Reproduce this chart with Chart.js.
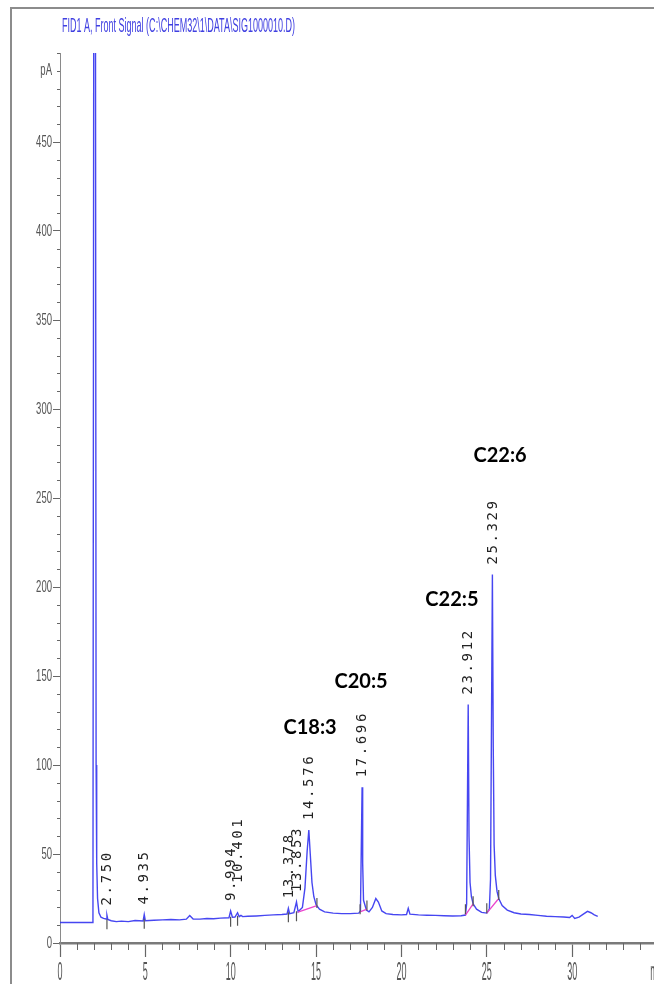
<!DOCTYPE html>
<html>
<head>
<meta charset="utf-8">
<script src="https://cdn.jsdelivr.net/npm/chart.js@4.4.1/dist/chart.umd.min.js"></script>
<style>
  html, body { margin: 0; padding: 0; background: #fff; width: 654px; height: 984px; overflow: hidden; }
  canvas { display: block; }
</style>
</head>
<body>
<canvas id="chrom" width="720" height="984" style="width:720px;height:984px"></canvas>
<script>
// FID detector trace: [retention time (min), signal (pA)], apexes excluded
const baseTrace = [
  [0, 11.5], [1.9, 11.5], [1.93, 11.8], [1.985, 620], [2.07, 620], [2.115, 100],
  [2.15, 45], [2.20, 25], [2.28, 17], [2.40, 14.5], [2.55, 13.8], [2.70, 13.5], [2.80, 13.2],
  [3.0, 12.5], [3.3, 12.0], [3.6, 12.3], [4.0, 12.0], [4.4, 12.6], [4.87, 12.4], [5.0, 12.5],
  [5.5, 12.8], [6.0, 13.0], [6.5, 13.2], [7.0, 13.0], [7.4, 13.4], [7.6, 15.5], [7.8, 13.5],
  [8.2, 13.4], [8.6, 13.8], [9.0, 13.6], [9.4, 14.0], [9.9, 14.2], [10.1, 14.5], [10.25, 14.6],
  [10.5, 14.8], [10.6, 15.5], [10.7, 14.8], [11.0, 15.0], [11.5, 15.2], [12.0, 15.5], [12.5, 15.8],
  [13.0, 16.0], [13.3, 16.3], [13.45, 16.5], [13.7, 17.0], [13.95, 17.5], [14.2, 20], [14.35, 31],
  [14.48, 52], [14.66, 50], [14.76, 34], [14.87, 26], [15.0, 21.5], [15.2, 19], [15.5, 17.5],
  [16.0, 16.8], [16.5, 16.5], [17.0, 16.5], [17.5, 16.8], [17.6, 18], [17.73, 45],
  [17.78, 24], [17.95, 18.5], [18.1, 17.5], [18.3, 20], [18.5, 25], [18.65, 23], [18.85, 18],
  [19.1, 16.5], [19.5, 16], [20.0, 15.8], [20.3, 16], [20.4, 19.5], [20.5, 16.2], [21.0, 15.8],
  [21.5, 15.6], [22.0, 15.5], [22.5, 15.3], [23.0, 15.2], [23.5, 15.3], [23.75, 15.7], [23.82, 22],
  [23.96, 60], [24.02, 34], [24.1, 26], [24.2, 22], [24.4, 19], [24.7, 17.2],
  [25.0, 16.8], [25.15, 19], [25.22, 36], [25.38, 110], [25.43, 55], [25.5, 38],
  [25.6, 29], [25.7, 25], [25.9, 21], [26.2, 18.5], [26.6, 17], [27.0, 16.3], [27.5, 16],
  [28.0, 15.5], [28.5, 15], [29.0, 14.8], [29.5, 14.6], [29.85, 14.3], [30.0, 15.5], [30.15, 13.8],
  [30.4, 14.5], [30.7, 16.5], [30.9, 17.8], [31.1, 17.0], [31.3, 15.8], [31.5, 15]
];

// Integrated peaks: retention time and apex height (pA)
const peakTimes = [2.750, 4.935, 9.994, 10.401, 13.378, 13.853, 14.576, 17.696, 23.912, 25.329];
const peakHeights = [15.5, 16, 18, 17, 19.5, 23, 63.5, 87.5, 134, 207];

// Integration baselines: [start t, start pA, end t, end pA]
const integBaselines = [
  [13.94, 17.3, 15.05, 21],
  [17.58, 17.5, 17.98, 19],
  [23.75, 15.7, 24.2, 22],
  [25.0, 16.8, 25.7, 25]
];

// Peak event marks: [t, pA]
const eventMarks = [
  [2.75, 10.5], [4.935, 10.8], [9.994, 12], [10.401, 12.5], [13.378, 14.5], [13.853, 15],
  [15.05, 22.5], [17.58, 19], [17.98, 21], [23.75, 19], [24.2, 23.5], [25.0, 19.5], [25.7, 27]
];

// Compound names and where they are written [t, pA]
const compoundNames = ['C18:3', 'C20:5', 'C22:5', 'C22:6'];
const compoundAt = [[14.65, 121], [17.64, 147], [22.96, 193], [25.78, 274]];

const xTickLabels = ['0', '5', '10', '15', '20', '25', '30', 'min'];
const yTickLabels = ['0', '50', '100', '150', '200', '250', '300', '350', '400', '450'];
const signalTitle = 'FID1 A, Front Signal (C:\\CHEM32\\1\\DATA\\SIG1000010.D)';

// merge apex points into the trace
const tracePts = baseTrace.map(p => ({ x: p[0], y: p[1] }))
  .concat(peakTimes.map((t, i) => ({ x: t, y: peakHeights[i] })))
  .sort((a, b) => a.x - b.x);

const basePts = [];
integBaselines.forEach(b => {
  basePts.push({ x: b[0], y: b[1] }, { x: b[2], y: b[3] }, { x: b[2] + 0.001, y: null });
});

const condensedText = (ctx, text, x, y, size, sx, align) => {
  ctx.save();
  ctx.font = size + 'px "Liberation Sans", Arial, sans-serif';
  const w = ctx.measureText(text).width * sx;
  let left = x;
  if (align === 'right') left = x - w;
  if (align === 'center') left = x - w / 2;
  ctx.translate(left, y);
  ctx.scale(sx, 1);
  ctx.textAlign = 'left';
  ctx.fillText(text, 0, 0);
  ctx.restore();
};

const decor = {
  id: 'decor',
  beforeDraw(chart) {
    const ctx = chart.ctx;
    ctx.save();
    ctx.fillStyle = '#fff';
    ctx.fillRect(0, 0, chart.width, chart.height);
    ctx.strokeStyle = '#8c8c8c';
    ctx.lineWidth = 2;
    ctx.beginPath();
    ctx.moveTo(11, chart.height);
    ctx.lineTo(11, 8);
    ctx.lineTo(chart.width, 8);
    ctx.stroke();
    ctx.restore();
  },
  afterDraw(chart) {
    const ctx = chart.ctx;
    const xs = chart.scales.x, ys = chart.scales.y;
    const area = chart.chartArea;
    ctx.save();

    // minor ticks
    ctx.strokeStyle = '#666';
    ctx.lineWidth = 1;
    ctx.beginPath();
    for (let t = 1; t <= xs.max; t++) {
      if (t % 5 === 0) continue;
      const px = Math.round(xs.getPixelForValue(t)) + 0.5;
      ctx.moveTo(px, area.bottom);
      ctx.lineTo(px, area.bottom + 7);
    }
    for (let v = 10; v <= ys.max; v += 10) {
      if (v % 50 === 0 && v !== ys.max) continue;
      const py = Math.round(ys.getPixelForValue(v)) + 0.5;
      ctx.moveTo(area.left - 3, py);
      ctx.lineTo(area.left, py);
    }
    ctx.stroke();

    // tick labels
    ctx.fillStyle = '#555';
    ctx.textBaseline = 'middle';
    yTickLabels.forEach(s => {
      condensedText(ctx, s, area.left - 8, ys.getPixelForValue(Number(s)), 17, 0.56, 'right');
    });
    condensedText(ctx, 'pA', area.left - 8, ys.getPixelForValue(490), 17, 0.56, 'right');
    ctx.textBaseline = 'top';
    xTickLabels.forEach((s, i) => {
      condensedText(ctx, s, xs.getPixelForValue(i * 5), area.bottom + 18, 25, 0.36, 'center');
    });

    // title
    ctx.fillStyle = 'rgb(64,64,225)';
    ctx.textBaseline = 'alphabetic';
    ctx.font = '20px "Liberation Sans", Arial, sans-serif';
    const tw = ctx.measureText(signalTitle).width;
    condensedText(ctx, signalTitle, 62, 32, 20, 233 / tw, 'left');

    // retention time labels above each peak
    ctx.fillStyle = '#222';
    ctx.font = '14px "DejaVu Sans Mono", monospace';
    ctx.letterSpacing = '2.6px';
    ctx.textBaseline = 'middle';
    ctx.textAlign = 'left';
    let prevX = -100, prevBottom = 0;
    peakTimes.forEach((t, i) => {
      const px = xs.getPixelForValue(t);
      let bottom = ys.getPixelForValue(peakHeights[i]) - 10;
      if (Math.abs(px - prevX) < 8) bottom = Math.min(bottom, prevBottom - 18);
      ctx.save();
      ctx.translate(px + 0.5, bottom);
      ctx.rotate(-Math.PI / 2);
      ctx.fillText(t.toFixed(3), 0, 0);
      ctx.restore();
      prevX = px; prevBottom = bottom;
    });
    ctx.letterSpacing = '0px';

    // compound names
    ctx.fillStyle = '#000';
    ctx.font = 'bold 20px Lato, "DejaVu Sans", sans-serif';
    ctx.textAlign = 'center';
    ctx.textBaseline = 'middle';
    compoundNames.forEach((n, i) => {
      ctx.fillText(n, xs.getPixelForValue(compoundAt[i][0]), ys.getPixelForValue(compoundAt[i][1]));
    });
    ctx.restore();
  }
};

new Chart(document.getElementById('chrom'), {
  type: 'line',
  data: {
    datasets: [
      {
        data: tracePts,
        borderColor: 'rgba(50,50,240,0.9)',
        borderWidth: 1.4,
        pointRadius: 0,
        tension: 0,
        order: 2
      },
      {
        data: basePts,
        borderColor: 'rgb(235,70,205)',
        borderWidth: 1.3,
        pointRadius: 0,
        spanGaps: false,
        tension: 0,
        order: 1
      },
      {
        type: 'scatter',
        data: eventMarks.map(m => ({ x: m[0], y: m[1] })),
        pointStyle: 'line',
        rotation: 90,
        radius: 5,
        borderColor: '#555',
        borderWidth: 1.2,
        showLine: false,
        order: 0
      }
    ]
  },
  options: {
    responsive: false,
    animation: false,
    devicePixelRatio: 1,
    layout: { padding: { top: 53, left: 0, right: 11.3, bottom: 0 } },
    plugins: { legend: { display: false }, tooltip: { enabled: false }, title: { display: false } },
    scales: {
      x: {
        type: 'linear',
        min: 0,
        max: 38,
        ticks: { display: false, stepSize: 5 },
        grid: { drawOnChartArea: false, drawTicks: true, tickLength: 14, tickColor: '#666', tickWidth: 1.2 },
        border: { display: true, color: '#7a7a7a', width: 2.5 },
        afterFit: s => { s.height = 41; }
      },
      y: {
        min: 0,
        max: 500,
        ticks: { display: false, stepSize: 50 },
        grid: {
          drawOnChartArea: false,
          drawTicks: true,
          tickLength: 7,
          tickWidth: 1,
          tickColor: c => (c.tick && c.tick.value === 500 ? 'rgba(0,0,0,0)' : '#666')
        },
        border: { display: true, color: '#8a8a8a', width: 1 },
        afterFit: s => { s.width = 60; }
      }
    }
  },
  plugins: [decor]
});
</script>
</body>
</html>
